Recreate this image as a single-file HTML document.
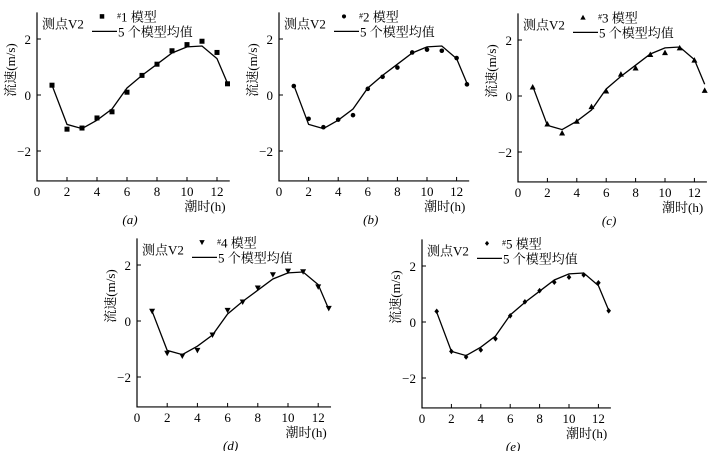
<!DOCTYPE html>
<html><head><meta charset="utf-8">
<style>
html,body{margin:0;padding:0;background:#fff;}
svg{display:block;font-family:"Liberation Serif","Noto Serif CJK SC",serif;}
</style></head>
<body>
<svg id="c" width="711" height="451" viewBox="0 0 711 451" xmlns="http://www.w3.org/2000/svg"></svg>
<script>
const hours = [1,2,3,4,5,6,7,8,9,10,11,12,12.7];
const meanValues = [0.35,-1.05,-1.2,-0.9,-0.5,0.25,0.7,1.1,1.5,1.72,1.75,1.3,0.42];
const model1 = [0.35,-1.22,-1.18,-0.82,-0.6,0.1,0.7,1.1,1.58,1.8,1.92,1.52,0.4];
const model2 = [0.32,-0.85,-1.15,-0.88,-0.72,0.22,0.65,0.98,1.52,1.62,1.58,1.32,0.38];
const model3 = [0.32,-1.0,-1.32,-0.9,-0.38,0.18,0.78,1.0,1.48,1.55,1.72,1.28,0.2];
const model4 = [0.35,-1.15,-1.25,-1.05,-0.5,0.38,0.68,1.18,1.65,1.78,1.76,1.22,0.45];
const model5 = [0.38,-1.05,-1.25,-1.0,-0.6,0.22,0.72,1.12,1.42,1.6,1.68,1.4,0.4];
const xTicks = [0,2,4,6,8,10,12];
const yTicks = [2,0,-2];
const modelLabels = ["#1","#2","#3","#4","#5"];
const captions = ["(a)","(b)","(c)","(d)","(e)"];

const svg = document.getElementById('c');
const NS = 'http://www.w3.org/2000/svg';
function mk(tag, attrs, parent){const e=document.createElementNS(NS,tag);for(const k in attrs)e.setAttribute(k,attrs[k]);(parent||svg).appendChild(e);return e;}

const panels = [
 {ox:37, oy:95, sx:15, sy:28, data:model1, m:'square'},
 {ox:279, oy:95, sx:14.8, sy:28, data:model2, m:'circle'},
 {ox:518, oy:96, sx:14.7, sy:28, data:model3, m:'tri'},
 {ox:137, oy:321, sx:15.1, sy:28, data:model4, m:'tridown'},
 {ox:422, oy:322, sx:14.7, sy:28, data:model5, m:'diamond'}
];

panels.forEach((p,i)=>{
  const g = mk('g',{});
  
  
  const X = v=>p.ox+v*p.sx, Y=v=>p.oy-v*p.sy;
  const top=Y(2.95), bot=Y(-3.07), right=Math.min(X(12.85),711);
  const ax = mk('path',{d:`M${p.ox},${top}V${bot}H${right}`,fill:'none',stroke:'#000','stroke-width':1.2},g);
  
  
  yTicks.forEach(t=>{
    mk('line',{x1:p.ox,x2:p.ox+4,y1:Y(t),y2:Y(t),stroke:'#000'},g);
    const tx=mk('text',{x:p.ox-6,y:Y(t)+5,'text-anchor':'end','font-size':13},g);
    tx.textContent = t<0 ? '−'+(-t) : String(t);
    
    
  });
  xTicks.forEach(t=>{
    if(t>0) mk('line',{x1:X(t),x2:X(t),y1:bot,y2:bot-4,stroke:'#000'},g);
    const tx=mk('text',{x:X(t),y:bot+15,'text-anchor':'middle','font-size':13},g);
    tx.textContent=String(t);
    
    
  });
  const yl=mk('text',{x:0,y:0,'font-size':13,'text-anchor':'middle',transform:`translate(${p.ox-22},${p.oy-25}) rotate(-90)`},g);
  yl.textContent='流速(m/s)';
  
  
  const xl=mk('text',{x:X(11.2),y:bot+30,'text-anchor':'middle','font-size':13},g);
  xl.textContent='潮时(h)';
  
  
  const cap=mk('text',{x:X(6.2),y:bot+43,'text-anchor':'middle','font-size':13,'font-style':'italic'},g);
  cap.textContent=captions[i];
  
  
  // mean line
  const ln=mk('polyline',{points:hours.map((h,k)=>X(h)+','+Y(meanValues[k])).join(' '),fill:'none',stroke:'#000','stroke-width':1.3},g);
  
  
  function marker(x,y,sz){
    let e;
    if(p.m==='square') e=mk('rect',{x:x-2.5*sz,y:y-2.5*sz,width:5*sz,height:5*sz,fill:'#000'},g);
    else if(p.m==='circle') e=mk('circle',{cx:x,cy:y,r:2.3*sz,fill:'#000'},g);
    else if(p.m==='tri') e=mk('path',{d:`M${x},${y-3*sz}L${x+3*sz},${y+2.5*sz}L${x-3*sz},${y+2.5*sz}Z`,fill:'#000'},g);
    else if(p.m==='tridown') e=mk('path',{d:`M${x},${y+3*sz}L${x+3*sz},${y-2.5*sz}L${x-3*sz},${y-2.5*sz}Z`,fill:'#000'},g);
    else e=mk('path',{d:`M${x},${y-2.8*sz}L${x+2.3*sz},${y}L${x},${y+2.8*sz}L${x-2.3*sz},${y}Z`,fill:'#000'},g);
    return e;
  }
  p.data.forEach((v,k)=>{
    const e=marker(X(hours[k]),Y(v),1);
    
    
  });
  // legend
  const lg=mk('g',{},g);
  
  
  const t1=mk('text',{x:p.ox+5,y:top+16,'font-size':13},lg);
  t1.textContent='测点V2';
  const lx=p.ox+55;
  marker(lx+10,top+4,0.9);
  const t2=mk('text',{x:lx+25,y:top+9,'font-size':13},lg);
  const sup=mk('tspan',{'font-size':8,dy:-3},t2); sup.textContent='#';
  const rest=mk('tspan',{dy:3},t2); rest.textContent=modelLabels[i].slice(1)+' 模型';
  mk('line',{x1:lx,x2:lx+25,y1:top+19,y2:top+19,stroke:'#000','stroke-width':1.3},lg);
  const t3=mk('text',{x:lx+26,y:top+24,'font-size':13},lg);
  t3.textContent='5 个模型均值';
});
</script>
</body></html>
